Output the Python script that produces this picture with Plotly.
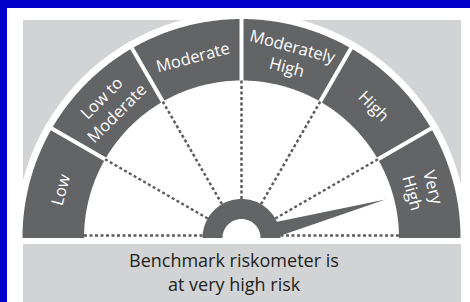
import math
import plotly.graph_objects as go

# ---- data ----
categories = ["Low", "Low to<br>Moderate", "Moderate", "Moderately<br>High", "High", "Very<br>High"]
current_level = "Very<br>High"
caption_lines = ["Benchmark riskometer is", "at very high risk"]

# ---- styling / geometry (pixels) ----
W, H = 470, 302
BLUE = "#0000cc"
LIGHT = "#d1d3d4"
DARK = "#636466"
DOT = "#5b5c5e"
CX, CY = 241.5, 238.0
R_WHITE = 226
R_OUT, R_IN = 219, 157.5
HUB_OUT, HUB_IN = 39, 19
NEEDLE_R = 149
LABEL_R = 188

n = len(categories)
seg = 180.0 / n


def pt(r, deg):
    a = math.radians(deg)
    return CX + r * math.cos(a), CY - r * math.sin(a)


def sector_path(r_in, r_out, a0, a1, steps=60):
    pts = [pt(r_out, a0 + (a1 - a0) * i / steps) for i in range(steps + 1)]
    if r_in > 0:
        pts += [pt(r_in, a1 - (a1 - a0) * i / steps) for i in range(steps + 1)]
    else:
        pts.append((CX, CY))
    return "M " + " L ".join(f"{x:.2f},{y:.2f}" for x, y in pts) + " Z"


shapes = []


def rect(x0, y0, x1, y1, color):
    shapes.append(dict(type="rect", xref="x", yref="y", x0=x0, y0=y0, x1=x1, y1=y1,
                       fillcolor=color, line=dict(width=0), layer="above"))


def path(p, color):
    shapes.append(dict(type="path", xref="x", yref="y", path=p, fillcolor=color,
                       line=dict(width=0), layer="above"))


def line(p0, p1, color, width, dash=None):
    ln = dict(color=color, width=width)
    if dash:
        ln["dash"] = dash
    shapes.append(dict(type="line", xref="x", yref="y", x0=p0[0], y0=p0[1], x1=p1[0], y1=p1[1],
                       line=ln, layer="above"))


# light panel
rect(23, 20, 461, CY, LIGHT)
# white halo
path(sector_path(0, R_WHITE, 0, 180), "white")
# segments
for i, c in enumerate(categories):
    a1 = 180 - i * seg
    a0 = a1 - seg
    path(sector_path(R_IN, R_OUT, a0, a1), DARK)
# separators
for i in range(1, n):
    a = 180 - i * seg
    line(pt(R_IN - 2, a), pt(R_WHITE, a), "white", 4)
# dotted guides
for i in range(1, n):
    a = 180 - i * seg
    line(pt(HUB_OUT, a), pt(R_IN, a), DOT, 2.5, "3px,2.5px")
line((CX - R_IN, CY - 2.5), (CX - HUB_OUT, CY - 2.5), DOT, 2.5, "3px,2.5px")
line((CX + HUB_OUT, CY - 2.5), (CX + R_IN, CY - 2.5), DOT, 2.5, "3px,2.5px")

# needle
idx = categories.index(current_level)
needle_deg = 180 - (idx + 0.5) * seg
b1 = pt(38, needle_deg + 10)
b2 = pt(38, needle_deg - 12)
tip = pt(NEEDLE_R, needle_deg)
shapes.append(dict(type="path", xref="x", yref="y",
                   path=f"M {b1[0]:.2f},{b1[1]:.2f} L {tip[0]:.2f},{tip[1]:.2f} L {b2[0]:.2f},{b2[1]:.2f} L {CX},{CY} Z",
                   fillcolor=DARK, line=dict(width=0), layer="above"))
# hub
path(sector_path(0, HUB_OUT, 0, 180), DARK)
path(sector_path(0, HUB_IN, 0, 180), "white")
# caption panel
rect(23, 244, 461, H, LIGHT)
# white right margin, then border
rect(461, 8, W, H, "white")
rect(0, 0, W, 8, BLUE)
rect(0, 0, 7, H, BLUE)

annotations = []
for i, c in enumerate(categories):
    a = 180 - (i + 0.5) * seg
    x, y = pt(LABEL_R, a)
    annotations.append(dict(x=x, y=y, xref="x", yref="y", text=c, showarrow=False,
                            textangle=90 - a, font=dict(family="Open Sans", size=16.5, color="white"),
                            align="center", xanchor="center", yanchor="middle"))
for j, t in enumerate(caption_lines):
    annotations.append(dict(x=234, y=260 + 24 * j, xref="x", yref="y", text=t, showarrow=False,
                            font=dict(family="Open Sans", size=18, color="#231f20"),
                            xanchor="center", yanchor="middle"))

fig = go.Figure(go.Scatter(x=[], y=[]))
fig.update_layout(
    width=W, height=H, margin=dict(l=0, r=0, t=0, b=0),
    paper_bgcolor="white", plot_bgcolor="white",
    xaxis=dict(range=[0, W], visible=False, fixedrange=True),
    yaxis=dict(range=[H, 0], visible=False, fixedrange=True),
    shapes=shapes, annotations=annotations, showlegend=False,
)
fig.write_html(
    "out.html",
    config={"displayModeBar": False},
    post_script="document.body.style.margin='0';document.body.style.overflow='hidden';"
                "document.documentElement.style.overflow='hidden';",
)
